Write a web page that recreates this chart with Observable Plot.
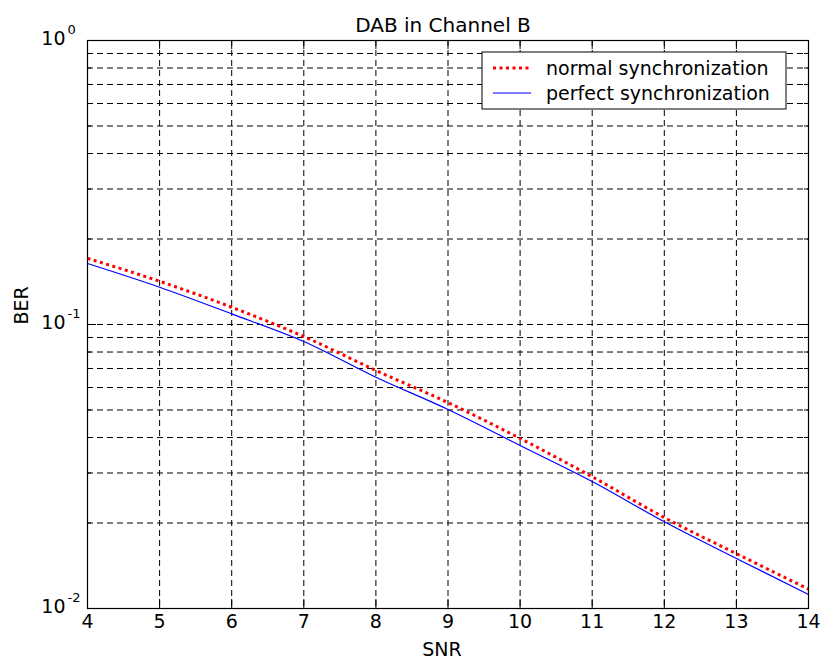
<!DOCTYPE html>
<html><head><meta charset="utf-8">
<script src="https://cdn.jsdelivr.net/npm/d3@7"></script>
<script src="https://cdn.jsdelivr.net/npm/@observablehq/plot@0.6"></script>
<style>body{margin:0;background:#fff}</style>
</head><body><div id="chart"></div>
<script>
const titleText = "DAB in Channel B";
const xLabel = "SNR";
const yLabel = "BER";
const seriesNames = ["normal synchronization", "perfect synchronization"];
const snr = [4, 5, 6, 7, 8, 9, 10, 11, 12, 13, 14];
const normalSync = [0.171, 0.142, 0.115, 0.0907, 0.0689, 0.0531, 0.0397, 0.0291, 0.0209, 0.0156, 0.0117];
const perfectSync = [0.164, 0.1353, 0.109, 0.0871, 0.0652, 0.0502, 0.0375, 0.0280, 0.0202, 0.0150, 0.0112];
const xTicks = [4, 5, 6, 7, 8, 9, 10, 11, 12, 13, 14];
const yDecades = [0.01, 0.1, 1];
const yExponents = ["-2", "-1", "0"];
const yMinor = [0.02, 0.03, 0.04, 0.05, 0.06, 0.07, 0.08, 0.09, 0.2, 0.3, 0.4, 0.5, 0.6, 0.7, 0.8, 0.9];

const W = 822, H = 668, mL = 87, mR = 14, mT = 40, mB = 60;
const pW = W - mL - mR, pH = H - mT - mB;
const font = "DejaVu Sans";

const rowsN = snr.map((s, i) => ({snr: s, ber: normalSync[i], series: seriesNames[0]}));
const rowsP = snr.map((s, i) => ({snr: s, ber: perfectSync[i], series: seriesNames[1]}));

const innerX = xTicks.slice(1, -1);
const gridY = yMinor.concat([0.1]);
const dashes = "6,4";

const plot = Plot.plot({
  width: W, height: H,
  marginLeft: mL, marginRight: mR, marginTop: mT, marginBottom: mB,
  style: {fontFamily: font, background: "#fff", color: "#000"},
  x: {type: "linear", domain: [4, 14], axis: null},
  y: {type: "log", domain: [0.01, 1], axis: null},
  marks: [
    Plot.ruleY(gridY, {y: d => d, stroke: "#000", strokeWidth: 1, strokeDasharray: dashes}),
    Plot.ruleX(innerX, {x: d => d, stroke: "#000", strokeWidth: 1, strokeDasharray: dashes}),
    Plot.tickX(xTicks, {x: d => d, insetTop: pH - 9, stroke: "#000"}),
    Plot.tickX(xTicks, {x: d => d, insetBottom: pH - 9, stroke: "#000"}),
    Plot.tickY(yDecades, {y: d => d, insetRight: pW - 9, stroke: "#000"}),
    Plot.tickY(yDecades, {y: d => d, insetLeft: pW - 9, stroke: "#000"}),
    Plot.tickY(yMinor, {y: d => d, insetRight: pW - 4, stroke: "#000"}),
    Plot.tickY(yMinor, {y: d => d, insetLeft: pW - 4, stroke: "#000"}),
    Plot.line(rowsN, {x: "snr", y: "ber", stroke: "#ff0000", strokeWidth: 3, strokeDasharray: "3,3.5", strokeLinecap: "butt", curve: "monotone-x"}),
    Plot.line(rowsP, {x: "snr", y: "ber", stroke: "#0000ff", strokeWidth: 1.2, curve: "monotone-x"}),
    Plot.frame({stroke: "#000", strokeWidth: 1.2}),
    Plot.text(xTicks, {x: d => d, frameAnchor: "bottom", dy: 19, text: d => String(d), fontSize: 19, fill: "#000"}),
    Plot.text(yDecades, {y: d => d, frameAnchor: "left", dx: -22, dy: -1.5, text: () => "10", textAnchor: "end", fontSize: 19, fill: "#000"}),
    Plot.text(yDecades, {y: d => d, frameAnchor: "left", dx: -20, dy: -11, text: (d, i) => yExponents[i], textAnchor: "start", fontSize: 13, fill: "#000"}),
    Plot.text([titleText], {frameAnchor: "top", dy: -23, dx: -5, fontSize: 20, fill: "#000"}),
    Plot.text([xLabel], {frameAnchor: "bottom", dy: 47, dx: -6, fontSize: 19, fill: "#000"}),
    Plot.text([yLabel], {frameAnchor: "left", dx: -66, rotate: -90, fontSize: 19, fill: "#000"})
  ]
});

// legend (inside plot area, upper right)
const svg = d3.select(plot);
const lg = svg.append("g").attr("font-family", font).attr("font-size", 19).attr("text-anchor", "start");
lg.append("rect").attr("x", 482).attr("y", 52).attr("width", 304).attr("height", 57)
  .attr("fill", "#fff").attr("stroke", "#000").attr("stroke-width", 1);
const legendStyles = [
  {stroke: "#ff0000", width: 3, dash: "3,3.5", y: 68},
  {stroke: "#0000ff", width: 1.2, dash: null, y: 93}
];
seriesNames.forEach((name, i) => {
  const s = legendStyles[i];
  const ln = lg.append("line").attr("x1", 493).attr("x2", 531).attr("y1", s.y).attr("y2", s.y)
    .attr("stroke", s.stroke).attr("stroke-width", s.width).attr("stroke-linecap", "butt");
  if (s.dash) ln.attr("stroke-dasharray", s.dash);
  lg.append("text").attr("x", 546).attr("y", s.y).attr("dy", "0.35em")
    .attr("text-anchor", "start").attr("fill", "#000").text(name);
});

document.getElementById("chart").appendChild(plot);
</script>
</body></html>
